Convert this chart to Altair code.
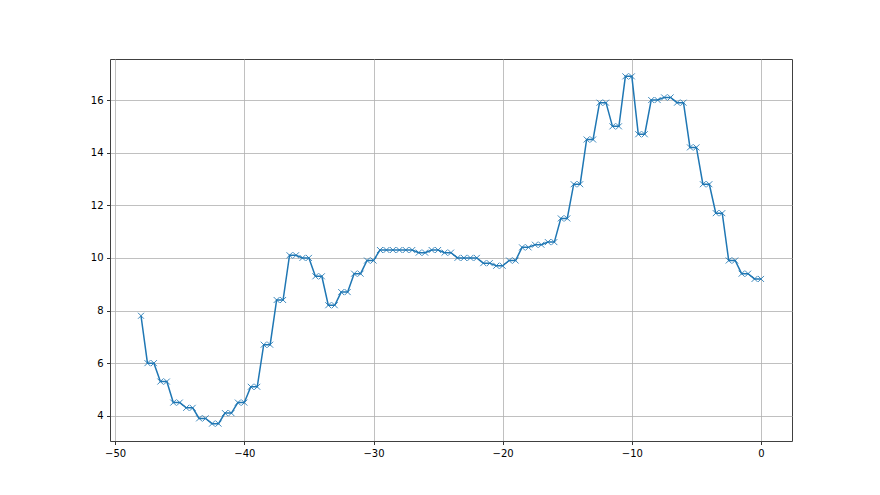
import altair as alt
import pandas as pd

x_values = [-48, -47.5, -47, -46.5, -46, -45.5, -45, -44.5, -44, -43.5, -43,
            -42.5, -42, -41.5, -41, -40.5, -40, -39.5, -39, -38.5, -38,
            -37.5, -37, -36.5, -36, -35.5, -35, -34.5, -34, -33.5, -33,
            -32.5, -32, -31.5, -31, -30.5, -30, -29.5, -29, -28.5, -28,
            -27.5, -27, -26.5, -26, -25.5, -25, -24.5, -24, -23.5, -23,
            -22.5, -22, -21.5, -21, -20.5, -20, -19.5, -19, -18.5, -18,
            -17.5, -17, -16.5, -16, -15.5, -15, -14.5, -14, -13.5, -13,
            -12.5, -12, -11.5, -11, -10.5, -10, -9.5, -9, -8.5, -8,
            -7.5, -7, -6.5, -6, -5.5, -5, -4.5, -4, -3.5, -3,
            -2.5, -2, -1.5, -1, -0.5, 0]

y_values = [7.8, 6.0, 6.0, 5.3, 5.3, 4.5, 4.5, 4.3, 4.3, 3.9, 3.9,
            3.7, 3.7, 4.1, 4.1, 4.5, 4.5, 5.1, 5.1, 6.7, 6.7,
            8.4, 8.4, 10.1, 10.1, 10.0, 10.0, 9.3, 9.3, 8.2, 8.2,
            8.7, 8.7, 9.4, 9.4, 9.9, 9.9, 10.3, 10.3, 10.3, 10.3,
            10.3, 10.3, 10.2, 10.2, 10.3, 10.3, 10.2, 10.2, 10.0, 10.0,
            10.0, 10.0, 9.8, 9.8, 9.7, 9.7, 9.9, 9.9, 10.4, 10.4,
            10.5, 10.5, 10.6, 10.6, 11.5, 11.5, 12.8, 12.8, 14.5, 14.5,
            15.9, 15.9, 15.0, 15.0, 16.9, 16.9, 14.7, 14.7, 16.0, 16.0,
            16.1, 16.1, 15.9, 15.9, 14.2, 14.2, 12.8, 12.8, 11.7, 11.7,
            9.9, 9.9, 9.4, 9.4, 9.2, 9.2]

x_ticks = [-50, -40, -30, -20, -10, 0]
y_ticks = [4, 6, 8, 10, 12, 14, 16]

df = pd.DataFrame({"x": x_values, "y": y_values})

axis_common = dict(
    grid=True, gridColor="#b0b0b0", gridWidth=0.8,
    domain=False, ticks=True, tickSize=3.5, tickColor="#000000", tickWidth=0.8,
    labelFont="DejaVu Sans", labelFontSize=10, labelColor="#000000",
    labelPadding=3.5, title=None,
)

x_enc = alt.X("x:Q", scale=alt.Scale(domain=[-50.4, 2.4], nice=False, zero=False),
              axis=alt.Axis(values=x_ticks, format="d", labelFlush=False, **axis_common))
y_enc = alt.Y("y:Q", scale=alt.Scale(domain=[3.04, 17.56], nice=False, zero=False),
              axis=alt.Axis(values=y_ticks, format="d", labelFlush=False, **axis_common))

line = alt.Chart(df).mark_line(color="#1f77b4", strokeWidth=1.5).encode(x=x_enc, y=y_enc)
pts = alt.Chart(df).mark_point(
    shape="M-1,-1L1,1M-1,1L1,-1", size=36, filled=False,
    color="#1f77b4", strokeWidth=1, opacity=0.85,
).encode(x="x:Q", y="y:Q")

chart = (line + pts).properties(
    width=682, height=382,
    autosize=alt.AutoSizeParams(type="none"),
    padding={"left": 102, "top": 51, "right": 70, "bottom": 40},
).configure(
    background="white",
    view=alt.ViewConfig(stroke="#404040", strokeWidth=1),
)

chart.save("out.html", embed_options={"renderer": "svg", "actions": False})
